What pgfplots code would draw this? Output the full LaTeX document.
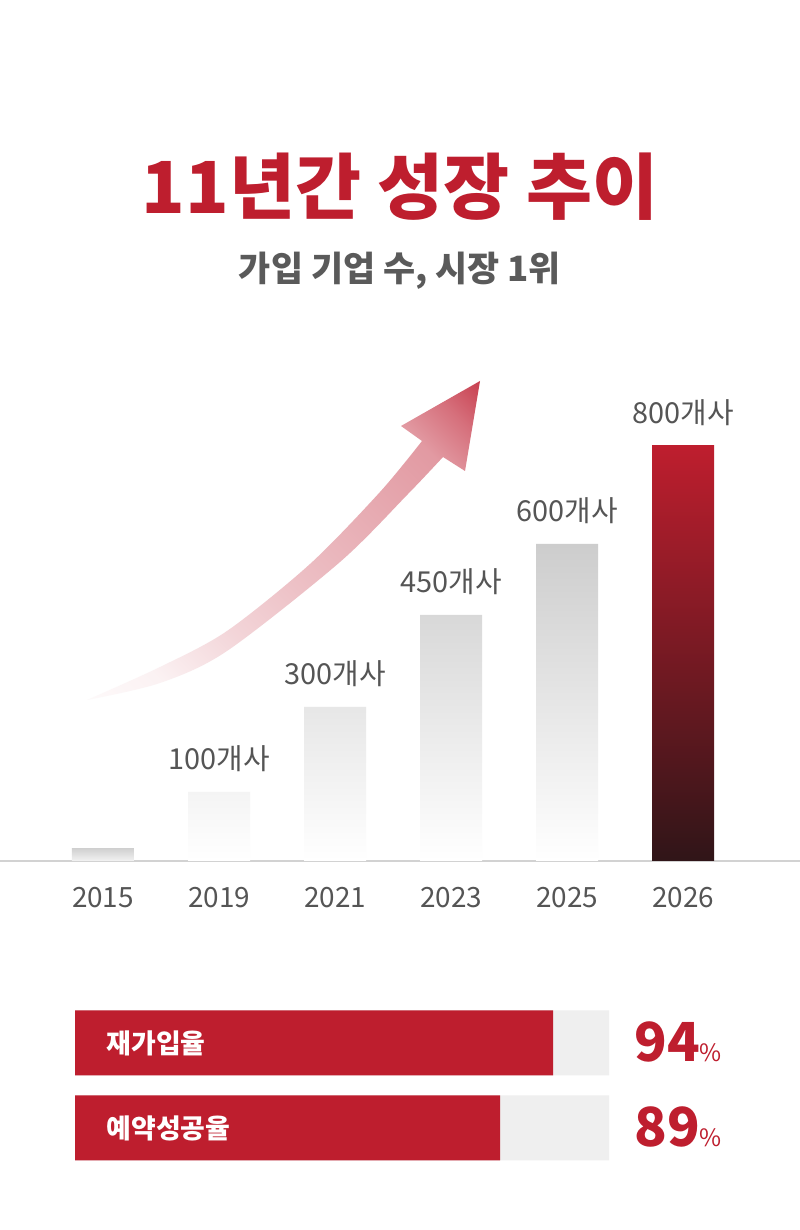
\documentclass[border=0pt]{standalone}
\usepackage{pgfplots}
\pgfplotsset{compat=1.18}
\usepackage{pgfplotstable}
\usepackage{fontspec}
\setmainfont{Noto Sans CJK KR}
\definecolor{brandred}{HTML}{BE1E2E}
\definecolor{darkred}{HTML}{301518}
\definecolor{txtgray}{HTML}{555555}
\definecolor{subgray}{HTML}{5A5A5A}
\definecolor{linegray}{HTML}{D2D2D2}
\definecolor{trackgray}{HTML}{EFEFEF}
\definecolor{bartop}{HTML}{CDCDCD}
\definecolor{arrowred}{HTML}{C84050}
\colorlet{a0}{arrowred!3!white}
\colorlet{a1}{arrowred!7!white}
\colorlet{a2}{arrowred!22!white}
\colorlet{a3}{arrowred!33!white}
\colorlet{a4}{arrowred!53!white}
\colorlet{a5}{arrowred!75!white}
\pgfdeclareverticalshading{arrowshade}{100bp}{color(0bp)=(white); color(14.6bp)=(a0);
  color(23.8bp)=(a1); color(35.8bp)=(a2); color(47.2bp)=(a3); color(73.4bp)=(a4);
  color(79.7bp)=(a5); color(85.4bp)=(arrowred); color(100bp)=(arrowred)}

% bar heights as drawn, with their labels
\pgfplotstableread{
x h label
1 69 100개사
2 154 300개사
3 246 450개사
4 317 600개사
}\graybars

\pgfplotstableread{
row value
1 94
0 89
}\rates

\begin{document}
\begin{tikzpicture}[x=1bp,y=1bp]
\fill[white] (0,0) rectangle (800,1230);
\path[use as bounding box] (0,0) rectangle (800,1230);

\node[anchor=base, text=brandred, inner sep=0pt,
      font=\fontsize{72}{78}\selectfont\bfseries] at (400,1016) {11년간 성장 추이};
\node[anchor=base, text=subgray, inner sep=0pt,
      font=\fontsize{35}{40}\selectfont\bfseries] at (400,948) {가입 기업 수, 시장 1위};

% decorative growth arrow
\path[shade, shading=arrowshade, shading angle=-45]
  (87,530) -- plot[smooth] coordinates {(87,530) (160,563) (227,599) (310,666) (380,738) (422,789)}
  -- (401,804) -- (480,849) -- (465,759) -- (443,773)
  -- plot[smooth] coordinates {(443,773) (408,736) (340,668) (227,579) (160,547) (87,530)} -- cycle;

\begin{axis}[
  at={(0,369)}, anchor=south west,
  x=116bp, y=1bp,
  xmin=-0.8879, xmax=6.0086, ymin=0, ymax=480,
  axis y line=none, axis x line*=bottom,
  axis line style={-, draw=linegray, line width=2bp},
  xtick={0,...,5}, xticklabels={2015,2019,2021,2023,2025,2026},
  major tick length=0pt,
  xticklabel style={font=\fontsize{28}{30}\selectfont, text=txtgray, anchor=base, yshift=-47bp, inner sep=0pt},
  ybar, bar width=62bp, bar shift=0pt,
]
\addplot[draw=none, top color=bartop!90, bottom color=white!95!black] coordinates {(0,12)};
\addplot[draw=none, top color=bartop, bottom color=white,
  nodes near coords, point meta=explicit symbolic,
  every node near coord/.append style={font=\fontsize{29}{32}\selectfont, text=txtgray, inner sep=0pt, yshift=20bp}]
  table[x=x, y=h, meta=label] {\graybars};
\addplot[draw=none, top color=brandred, bottom color=darkred,
  nodes near coords, point meta=explicit symbolic,
  every node near coord/.append style={font=\fontsize{29}{32}\selectfont, text=txtgray, inner sep=0pt, yshift=20bp}]
  coordinates {(5,415) [800개사]};
\end{axis}

\begin{axis}[
  at={(71,70)}, anchor=south west,
  x=10.595bp, y=85bp,
  xmin=48.9, xmax=99.3, ymin=-0.5, ymax=1.5,
  hide axis, clip mode=individual,
  xbar, bar width=65bp, bar shift=0pt,
]
\addplot[draw=none, fill=trackgray] coordinates {(99.3,1) (99.3,0)};
\addplot[draw=none, fill=brandred] table[x=value, y=row] {\rates};
\node[anchor=west, text=white, font=\fontsize{27}{30}\selectfont\bfseries] at (axis cs:48.9,1) [xshift=28bp] {재가입율};
\node[anchor=west, text=white, font=\fontsize{27}{30}\selectfont\bfseries] at (axis cs:48.9,0) [xshift=28bp] {예약성공율};
\node[anchor=base west, text=brandred, inner sep=0pt] at (axis cs:99.3,1) [xshift=25bp, yshift=-19bp]
  {{\fontsize{54}{58}\selectfont\bfseries 94}{\fontsize{24}{28}\selectfont\%}};
\node[anchor=base west, text=brandred, inner sep=0pt] at (axis cs:99.3,0) [xshift=25bp, yshift=-19bp]
  {{\fontsize{54}{58}\selectfont\bfseries 89}{\fontsize{24}{28}\selectfont\%}};
\end{axis}
\end{tikzpicture}
\end{document}
